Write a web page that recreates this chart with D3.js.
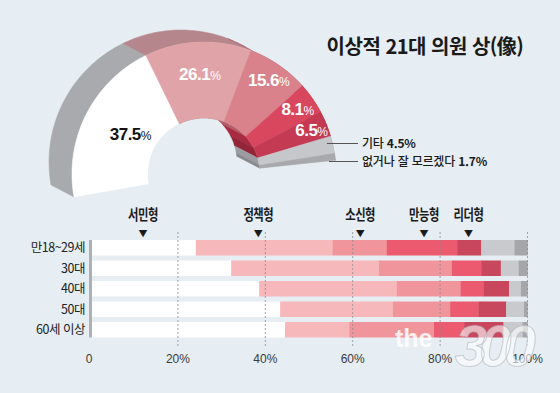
<!DOCTYPE html>
<html lang="ko">
<head>
<meta charset="utf-8">
<script src="https://cdn.jsdelivr.net/npm/d3@7"></script>
<style>
  html, body { margin: 0; padding: 0; background: #e6edf3; }
  svg { display: block; font-family: "Noto Sans CJK KR", "Noto Sans", sans-serif; }
</style>
</head>
<body>
<div id="chart"></div>
<script>
// 이상적 21대 의원 상(像): 전체 응답(반원 도넛) + 연령대별(누적 막대)
const typeNames = ['서민형', '정책형', '소신형', '만능형', '리더형', '기타', '없거나 잘 모르겠다'];
const totalValues = [37.5, 26.1, 15.6, 8.1, 6.5, 4.5, 1.7];

const ageGroups = ['만18~29세', '30대', '40대', '50대', '60세 이상'];
const seomin    = [24.1, 32.2, 38.6, 43.4, 44.5];
const jeongchaek = [31.3, 33.8, 31.5, 25.8, 14.7];
const sosin     = [12.4, 16.7, 14.6, 13.1, 19.4];
const manneung  = [16.1, 6.7, 5.2, 6.5, 6.9];
const leader    = [5.5, 4.5, 5.9, 6.3, 9.0];
const gita      = [7.6, 4.1, 2.7, 4.1, 4.4];
const moreum    = [3.0, 2.0, 1.5, 0.8, 1.1];

const xTicks = [0, 20, 40, 60, 80, 100];
const xTickLabels = ['0', '20%', '40%', '60%', '80%', '100%'];

(function() {
    const W = 560, H = 393;

    const faceColors  = ['#ffffff', '#e0a4a8', '#d9828b', '#d9475f', '#c43a53', '#c5c7ca', '#a7a9ac'];
    const outerWall   = ['#a8aaad', '#b5878c', '#b0656f', '#a83244', '#962c3d', '#a0a2a5', '#8d8f92'];
    const innerWall   = ['#c9cbce', '#b07c82', '#b25d68', '#a82b41', '#922537', '#9b9da0', '#87898c'];
    const barColors   = ['#ffffff', '#f7b8bb', '#f1959c', '#eb5a6f', '#c9475d', '#c9cacd', '#a5a6a9'];

    const svg = d3.select('#chart').append('svg')
        .attr('width', W).attr('height', H);

    svg.append('rect').attr('width', W).attr('height', H).attr('fill', '#e6edf3');

    // ---- 반원 도넛 (의사 3D) ----
    const CX = 204, CY = 174, R_OUT = 132, R_IN = 56;
    const EX = -23, EY = -12;   // 두께 방향
    const angle = d3.scalePow().exponent(0.93).domain([0, 100]).range([190, 6]);

    const proj = (rho, t) => {
        const a = angle(t) * Math.PI / 180;
        return [CX + rho * Math.cos(a), CY - rho * Math.sin(a)];
    };
    const arcPts = (rho, a, b) => {
        const n = Math.max(6, Math.ceil(Math.abs(b - a) * 1.5));
        return d3.range(n + 1).map(i => proj(rho, a + (b - a) * i / n));
    };
    const shift = p => [p[0] + EX, p[1] + EY];
    const line = d3.line();

    const ends = Array.from(d3.cumsum(totalValues));
    const segs = totalValues.map((v, i) => ({ i, v, s: ends[i] - v, e: ends[i] }));

    const ring = svg.append('g');

    // 안쪽 벽, 바깥 벽
    segs.forEach(d => {
        const pin = arcPts(R_IN, d.s, d.e);
        ring.append('path')
            .attr('d', line(pin.concat(pin.slice().reverse().map(shift))) + 'Z')
            .attr('fill', innerWall[d.i]).attr('stroke', innerWall[d.i]).attr('stroke-width', 0.5);
    });
    segs.forEach(d => {
        const pout = arcPts(R_OUT, d.s, d.e);
        ring.append('path')
            .attr('d', line(pout.concat(pout.slice().reverse().map(shift))) + 'Z')
            .attr('fill', outerWall[d.i]).attr('stroke', outerWall[d.i]).attr('stroke-width', 0.5);
    });
    // 윗면
    segs.forEach(d => {
        const pts = arcPts(R_OUT, d.s, d.e).concat(arcPts(R_IN, d.e, d.s));
        ring.append('path')
            .attr('d', line(pts) + 'Z')
            .attr('fill', faceColors[d.i]).attr('stroke', faceColors[d.i]).attr('stroke-width', 0.5);
    });

    // 조각 라벨
    const labelRadius = [84, 100, 114, 114, 116];
    segs.slice(0, 5).forEach(d => {
        const p = proj(labelRadius[d.i], (d.s + d.e) / 2);
        const t = svg.append('text')
            .attr('x', p[0]).attr('y', p[1] + 6)
            .attr('text-anchor', 'middle')
            .style('font-family', '"Liberation Sans", Arial, sans-serif')
            .style('font-weight', 700)
            .style('font-size', '17px')
            .style('letter-spacing', '-0.5px')
            .attr('fill', d.i === 0 ? '#111' : '#fff');
        t.append('tspan').text(d.v.toFixed(1));
        t.append('tspan').style('font-size', '12px').style('font-weight', 400).text('%');
    });

    // 기타 / 없거나 잘 모르겠다 지시선
    const sideY = [143.5, 161.5];
    segs.slice(5).forEach((d, k) => {
        const p = proj(R_OUT - 6, (d.s + d.e) / 2);
        svg.append('line')
            .attr('x1', p[0]).attr('x2', 358)
            .attr('y1', sideY[k]).attr('y2', sideY[k])
            .attr('stroke', '#555').attr('stroke-width', 1);
        const t = svg.append('text')
            .attr('x', 362).attr('y', sideY[k] + 4.3)
            .style('font-size', '12px')
            .style('font-weight', 500)
            .style('letter-spacing', '-0.2px')
            .attr('fill', '#1a1a1a');
        t.append('tspan').text(typeNames[d.i]);
        t.append('tspan').style('font-weight', 700).text('  ' + d.v.toFixed(1) + '%');
    });

    // 제목
    svg.append('text')
        .attr('x', 425).attr('y', 54)
        .attr('text-anchor', 'middle')
        .style('font-size', '20px')
        .style('font-weight', 700)
        .style('letter-spacing', '-0.5px')
        .attr('fill', '#1a1a1a')
        .text('이상적 21대 의원 상(像)');

    // ---- 연령대별 누적 막대 ----
    const series = [seomin, jeongchaek, sosin, manneung, leader, gita, moreum];
    const x = d3.scaleLinear().domain([0, 100]).range([90.5, 527.5]);
    const y = d3.scaleBand().domain(ageGroups)
        .range([237.5, 340]).paddingInner(0.244).paddingOuter(0.122);

    const rows = ageGroups.map((g, gi) => {
        let acc = 0;
        return series.map((s, si) => {
            const d = { g, si, x0: acc, x1: acc + s[gi] };
            acc += s[gi];
            return d;
        });
    }).flat();

    svg.append('g').selectAll('rect')
        .data(rows)
        .enter().append('rect')
        .attr('x', d => x(d.x0))
        .attr('y', d => y(d.g))
        .attr('width', d => x(d.x1) - x(d.x0) + 0.3)
        .attr('height', y.bandwidth())
        .attr('fill', d => barColors[d.si]);

    // 세로축 회색 띠
    svg.append('rect')
        .attr('x', x(0) - 1.5).attr('width', 3)
        .attr('y', y(ageGroups[0])).attr('height', y(ageGroups[4]) + y.bandwidth() - y(ageGroups[0]))
        .attr('fill', '#aeb0b3');

    // 점선 눈금
    svg.append('g').selectAll('line')
        .data(xTicks.slice(1))
        .enter().append('line')
        .attr('x1', d => x(d)).attr('x2', d => x(d))
        .attr('y1', 232).attr('y2', 346)
        .attr('stroke', '#8a8d91').attr('stroke-width', 0.8)
        .attr('stroke-dasharray', '2,2');

    // 눈금 라벨
    svg.append('g').selectAll('text')
        .data(xTicks)
        .enter().append('text')
        .attr('x', (d, i) => x(d) + (i === 0 ? -1.5 : 0))
        .attr('y', 363)
        .attr('text-anchor', 'middle')
        .style('font-family', '"Liberation Sans", Arial, sans-serif')
        .style('font-size', '12px')
        .attr('fill', '#3a3a3a')
        .text((d, i) => xTickLabels[i]);

    // 연령대 라벨
    svg.append('g').selectAll('text')
        .data(ageGroups)
        .enter().append('text')
        .attr('x', 85)
        .attr('y', d => y(d) + y.bandwidth() / 2 + 4.5)
        .attr('text-anchor', 'end')
        .style('font-size', '12.5px')
        .style('letter-spacing', '-0.5px')
        .attr('fill', '#222')
        .text(d => d);

    // 유형 표시 ▼
    const legendAt = [12, 38.4, 61.7, 76.3, 86.5];
    const legend = svg.append('g').selectAll('g')
        .data(typeNames.slice(0, 5))
        .enter().append('g')
        .attr('transform', (d, i) => `translate(${x(legendAt[i])},0)`);
    legend.append('text')
        .attr('transform', 'translate(0,220) scale(0.78,1)')
        .attr('text-anchor', 'middle')
        .style('font-size', '14.5px')
        .style('font-weight', 700)
        .style('letter-spacing', '-0.6px')
        .attr('fill', '#1a1a1a')
        .text(d => d);
    legend.append('text')
        .attr('y', 236.5)
        .attr('text-anchor', 'middle')
        .style('font-size', '9px')
        .attr('fill', '#1a1a1a')
        .text('▼');

    // 워터마크
    const wm = svg.append('g').style('font-family', '"Liberation Sans", Arial, sans-serif');
    wm.append('text')
        .attr('x', 395).attr('y', 347)
        .style('font-size', '25px').style('font-weight', 700)
        .attr('fill', 'rgba(255,255,255,0.85)')
        .text('the');
    wm.append('text')
        .attr('x', 455).attr('y', 366)
        .style('font-size', '58px').style('font-weight', 700).style('font-style', 'italic')
        .style('letter-spacing', '-8px')
        .attr('fill', 'rgba(255,255,255,0.6)')
        .attr('stroke', 'rgba(175,180,186,0.6)').attr('stroke-width', 1)
        .text('300');
})();
</script>
</body>
</html>
